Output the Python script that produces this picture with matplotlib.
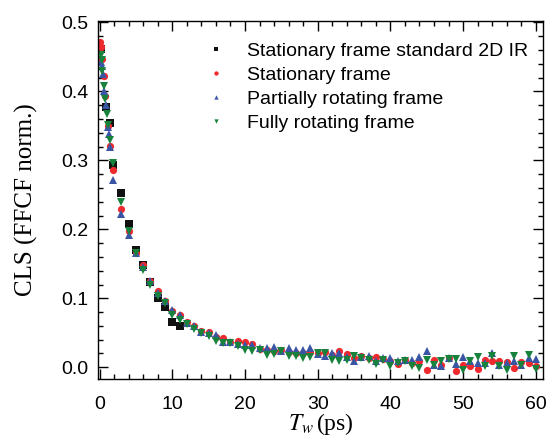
import numpy as np
import matplotlib
matplotlib.use("Agg")
import matplotlib.pyplot as plt
from matplotlib.ticker import MultipleLocator, FormatStrFormatter

plt.rcParams["font.family"] = ["Liberation Sans", "DejaVu Sans"]
plt.rcParams["mathtext.fontset"] = "stix"

# common waiting times after the early dense region (ps)
t_late = list(range(3, 61))

# Stationary frame standard 2D IR (only measured out to 11 ps)
t_std = [0.2, 0.9, 1.4, 1.8, 3, 4, 5, 6, 7, 8, 9, 10, 11]
cls_std = [0.461, 0.378, 0.354, 0.293, 0.252, 0.208, 0.170, 0.149, 0.124,
           0.100, 0.087, 0.066, 0.0605]

# Stationary frame
t_stat = [0.1, 0.2, 0.3, 0.6, 0.8, 1.2, 1.4, 1.8] + t_late
cls_stat = [0.471, 0.465, 0.447, 0.422, 0.393, 0.350, 0.321, 0.286,
            0.230, 0.197, 0.166, 0.148, 0.125, 0.110, 0.096, 0.082, 0.0765, 0.065,
            0.0595, 0.052, 0.051, 0.0436, 0.0427, 0.036, 0.0388, 0.036, 0.034, 0.027,
            0.0247, 0.023, 0.0247, 0.0218, 0.021, 0.021, 0.022, 0.021, 0.0218, 0.018,
            0.023, 0.0199, 0.014, 0.016, 0.0136, 0.0145, 0.012, 0.0097, 0.0054, 0.0112,
            0.006, 0.0097, -0.0034, 0.0112, 0.004, 0.0136, -0.0058, 0.004, 0.0025,
            -0.0024, 0.0112, 0.0088, 0.0088, 0.0073, -0.001, 0.0073, 0.0063, 0.0015]

# Partially rotating frame
t_part = [0.2, 0.3, 0.5, 0.6, 0.9, 1.1, 1.3, 1.4, 1.8] + t_late
cls_part = [0.442, 0.437, 0.425, 0.400, 0.380, 0.348, 0.338, 0.319, 0.272,
            0.222, 0.192, 0.166, 0.146, 0.125, 0.108, 0.096, 0.083, 0.0765, 0.064,
            0.0595, 0.051, 0.050, 0.0465, 0.037, 0.036, 0.034, 0.033, 0.033, 0.028,
            0.028, 0.029, 0.023, 0.028, 0.0247, 0.0257, 0.028, 0.019, 0.016, 0.021,
            0.020, 0.0145, 0.0097, 0.015, 0.017, 0.0087, 0.0136, 0.0136, 0.0097, 0.0112,
            0.0112, 0.015, 0.0233, 0.004, 0.0025, 0.0136, 0.005, 0.015, 0.009,
            0.0063, 0.0063, 0.0209, 0.004, 0.0063, 0.0088, 0.004, 0.0136, 0.012]

# Fully rotating frame
t_full = [0.2, 0.3, 0.4, 0.6, 0.8, 1.0, 1.2, 1.4, 1.8] + t_late
cls_full = [0.452, 0.445, 0.430, 0.408, 0.389, 0.367, 0.351, 0.329, 0.296,
            0.240, 0.197, 0.165, 0.141, 0.120, 0.104, 0.0925, 0.0765, 0.068, 0.063,
            0.056, 0.049, 0.046, 0.0388, 0.0354, 0.0354, 0.0305, 0.0247, 0.024, 0.0257,
            0.0184, 0.0199, 0.024, 0.017, 0.016, 0.0136, 0.015, 0.020, 0.021, 0.010,
            0.0097, 0.011, 0.016, 0.013, 0.011, 0.0054, 0.010, 0.0025, 0.006, 0.0088,
            0.0015, -0.001, 0.0112, 0.003, 0.0088, 0.012, 0.0127, -0.0034, 0.0097,
            0.015, 0.0015, 0.016, 0.002, -0.0034, 0.016, 0.004, 0.018, -0.0024]

series = [
    ("Stationary frame standard 2D IR", t_std, cls_std, "s", "#111111"),
    ("Stationary frame", t_stat, cls_stat, "o", "#ee2a2f"),
    ("Partially rotating frame", t_part, cls_part, "^", "#3b55a5"),
    ("Fully rotating frame", t_full, cls_full, "v", "#17823b"),
]

fig = plt.figure(figsize=(5.48, 4.42), dpi=100)
ax = fig.add_axes([0.179, 0.1425, 0.812, 0.81])

for label, t, v, m, c in series:
    ax.plot(t, v, linestyle="none", marker=m, markersize=5.2, color=c,
            markeredgewidth=0, label=label)

ax.set_xlim(-0.2, 61)
ax.set_ylim(-0.017, 0.502)
ax.xaxis.set_major_locator(MultipleLocator(10))
ax.xaxis.set_minor_locator(MultipleLocator(2))
ax.yaxis.set_major_locator(MultipleLocator(0.1))
ax.yaxis.set_minor_locator(MultipleLocator(0.02))
ax.yaxis.set_major_formatter(FormatStrFormatter("%.1f"))
ax.tick_params(which="both", direction="in", top=True, right=True,
               labelsize=14, width=1)
ax.tick_params(which="major", length=7)
ax.tick_params(which="minor", length=3.5)
ax.tick_params(axis="x", which="major", pad=12)
ax.tick_params(axis="y", which="major", pad=7)
for sp in ax.spines.values():
    sp.set_linewidth(1)

ax.set_ylabel("CLS (FFCF norm.)", family="Liberation Serif", fontsize=18,
              labelpad=17)
ax.set_xlabel(r"$T_w\,$(ps)", family="Liberation Serif", fontsize=17,
              labelpad=-1)

ax.legend(loc="upper right", frameon=False, fontsize=14,
          markerscale=0.6, handlelength=1.0, handletextpad=1.1,
          labelspacing=0.33, borderaxespad=0.0,
          bbox_to_anchor=(0.985, 0.962))

fig.savefig("out.png", dpi=100)
